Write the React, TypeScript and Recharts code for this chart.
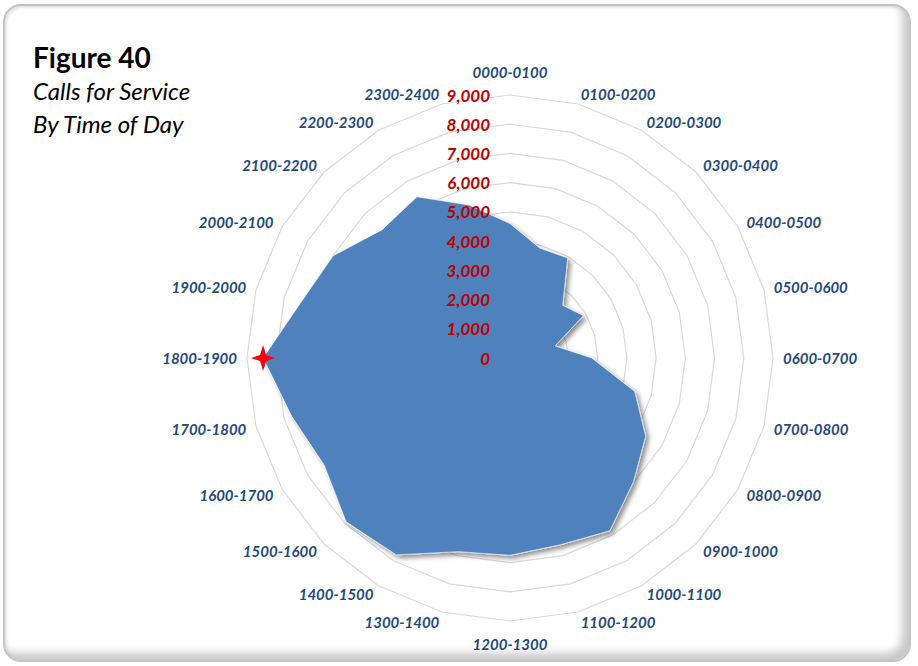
import React from 'react';
import { RadarChart, Radar, PolarGrid, PolarAngleAxis, PolarRadiusAxis } from 'recharts';

const hours = [
  '0000-0100', '0100-0200', '0200-0300', '0300-0400', '0400-0500', '0500-0600',
  '0600-0700', '0700-0800', '0800-0900', '0900-1000', '1000-1100', '1100-1200',
  '1200-1300', '1300-1400', '1400-1500', '1500-1600', '1600-1700', '1700-1800',
  '1800-1900', '1900-2000', '2000-2100', '2100-2200', '2200-2300', '2300-2400',
];

const calls = [
  4600, 3900, 3950, 2550, 2900, 1600,
  2800, 4420, 5360, 5980, 6830, 6620,
  6750, 6860, 7780, 7930, 7340, 7730,
  8450, 7400, 6990, 6200, 6370, 5420,
];

const radiusTicks = [0, 1000, 2000, 3000, 4000, 5000, 6000, 7000, 8000, 9000];

const data = hours.map((h, i) => ({ hour: h, calls: calls[i] }));
const peak = calls.indexOf(Math.max(...calls));

const CX = 510;
const CY = 358;
const OUTER = 263;

const font = 'Lato, "Open Sans", sans-serif';

// category labels sit just outside the outer ring
const HourTick = (props: any) => {
  const idx = hours.indexOf(props.payload.value);
  const a = (idx * 15 * Math.PI) / 180;
  const s = Math.sin(a);
  const c = Math.cos(a);
  let x: number, y: number, anchor: 'start' | 'middle' | 'end';
  if (Math.abs(s) < 0.01) {
    x = CX;
    y = CY - c * 286;
    anchor = 'middle';
  } else {
    x = CX + s * 273;
    y = CY - c * 273;
    anchor = s > 0 ? 'start' : 'end';
  }
  return (
    <text x={x} y={y} textAnchor={anchor} dominantBaseline="central"
      fill="#1f497d" fontFamily={font} fontSize={15} fontWeight="bold" fontStyle="italic">
      {props.payload.value}
    </text>
  );
};

const ValueTick = (props: any) => (
  <text x={props.x - 20} y={props.y} textAnchor="end" dominantBaseline="central"
    fill="#c00000" fontFamily={font} fontSize={17} fontWeight="bold" fontStyle="italic">
    {Number(props.payload.value).toLocaleString('en-US')}
  </text>
);

const StarDot = (props: any) => {
  if (props.index !== peak) return <g key={props.index} />;
  const { cx, cy } = props;
  const d = `M${cx},${cy - 13} L${cx + 3},${cy - 3} L${cx + 12},${cy} L${cx + 3},${cy + 3} L${cx},${cy + 13} L${cx - 3},${cy + 3} L${cx - 12},${cy} L${cx - 3},${cy - 3} Z`;
  return <path key={props.index} d={d} fill="#ff0000" />;
};

const Area = (props: any) => (
  <polygon
    points={props.points.map((p: any) => `${p.x},${p.y}`).join(' ')}
    fill="#4f81bd"
    stroke="#ffffff"
    strokeWidth={0.6}
    filter="url(#polyShadow)"
  />
);

export default function App() {
  return (
    <div style={{ position: 'absolute', left: 0, top: 0, width: 918, height: 666, background: '#fff' }}>
      <svg width={0} height={0} style={{ position: 'absolute' }}>
        <defs>
          <filter id="polyShadow" x="-10%" y="-10%" width="130%" height="130%">
            <feDropShadow dx={3} dy={3} stdDeviation={2.5} floodColor="#000" floodOpacity={0.45} />
          </filter>
        </defs>
      </svg>
      <div
        style={{
          position: 'absolute', left: 3, top: 4, width: 904, height: 654,
          border: '2px solid #c4c4c4', borderRadius: 18,
          boxShadow: 'inset -7px -7px 8px rgba(0,0,0,0.22), inset 2px 2px 3px rgba(0,0,0,0.1)',
        }}
      />
      <div style={{ position: 'absolute', left: 33, top: 40, fontFamily: font, color: '#000' }}>
        <div style={{ fontSize: 28, fontWeight: 'bold', lineHeight: '34px' }}>Figure 40</div>
        <div style={{ fontSize: 24, fontStyle: 'italic', lineHeight: '33px' }}>Calls for Service</div>
        <div style={{ fontSize: 24, fontStyle: 'italic', lineHeight: '33px' }}>By Time of Day</div>
      </div>
      <div style={{ position: 'absolute', left: 0, top: 0 }}>
        <RadarChart width={918} height={666} data={data} cx={CX} cy={CY} outerRadius={OUTER}
          margin={{ top: 0, right: 0, bottom: 0, left: 0 }}>
          <PolarGrid gridType="polygon" radialLines={false} stroke="#d9d9d9" strokeWidth={1.2} />
          <PolarAngleAxis dataKey="hour" tick={<HourTick />} tickLine={false} axisLine={false} />
          <PolarRadiusAxis angle={90} domain={[0, 9000]} ticks={radiusTicks as any} tickCount={10}
            tick={<ValueTick />} axisLine={false} tickLine={false} />
          <Radar dataKey="calls" isAnimationActive={false} shape={<Area />} dot={<StarDot />} />
        </RadarChart>
      </div>
    </div>
  );
}
